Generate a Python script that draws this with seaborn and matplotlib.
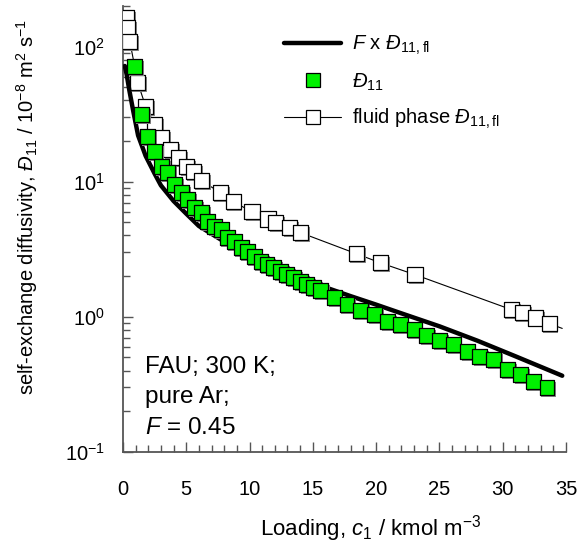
import numpy as np
import matplotlib
matplotlib.use('Agg')
import matplotlib.pyplot as plt
import matplotlib.patheffects as pe
from matplotlib.lines import Line2D
from matplotlib.ticker import MultipleLocator, LogLocator
import pandas as pd
import seaborn as sns

# fluid phase self-exchange diffusivity (open squares)
fluid_c = [0.31, 0.39, 0.55, 1.18, 1.80, 2.51, 3.06, 3.77, 4.39, 5.02, 5.57, 6.20, 7.69,
           8.71, 10.2, 11.46, 12.08, 13.18, 14.05, 18.44, 20.33, 23.07, 30.68, 31.55, 32.57, 33.67]
fluid_D = [164, 138, 109, 54, 36, 26.4, 21.2, 17.3, 15.1, 12.9, 11.9, 10.2, 8.3,
           7.1, 6.0, 5.3, 4.97, 4.56, 4.19, 2.93, 2.51, 2.05, 1.13, 1.07, 0.98, 0.89]
# thin line through fluid points runs a bit past the last square
fluid_line_c = fluid_c + [34.7]
fluid_line_D = fluid_D + [0.82]

# D11 in FAU (green squares)
d11_c = [0.94, 1.49, 1.96, 2.51, 3.06, 3.53, 4.08, 4.63, 5.10, 5.65, 6.20, 6.67, 7.22, 7.77,
         8.24, 8.79, 9.34, 9.81, 10.36, 10.91, 11.38, 11.93, 12.48, 12.95, 13.50, 14.05, 14.52,
         15.07, 15.62, 16.7, 17.7, 18.8, 19.9, 20.9, 21.9, 23.0, 24.0, 25.0, 26.1, 27.2, 28.2,
         29.3, 30.4, 31.4, 32.4, 33.5]
d11_D = [71.1, 31.3, 21.5, 16.7, 12.9, 11.7, 9.5, 8.3, 7.35, 6.42, 5.89, 5.05, 4.64, 4.41,
         3.85, 3.59, 3.24, 3.03, 2.78, 2.55, 2.43, 2.31, 2.15, 2.05, 1.94, 1.82, 1.73,
         1.64, 1.56, 1.38, 1.23, 1.11, 1.035, 0.918, 0.873, 0.80, 0.723, 0.664, 0.620, 0.551, 0.506,
         0.480, 0.405, 0.372, 0.330, 0.298]

# F x D11,fl curve (thick black)
fline_c = [0.15, 0.3, 0.5, 0.8, 1.2, 1.8, 2.5, 3.0, 4.0, 5.0, 6.0, 8.0, 10, 12, 14, 16,
           18, 20, 22, 25, 28, 31, 34.7]
fline_D = [72, 62, 48, 34, 22, 15.5, 11.5, 9.4, 7.2, 5.8, 4.7, 3.6, 2.8, 2.25, 1.92, 1.65,
           1.42, 1.23, 1.06, 0.85, 0.665, 0.51, 0.366]

sns.set_theme(style='ticks')
plt.rcParams['font.family'] = ['Liberation Sans', 'DejaVu Sans']
plt.rcParams['mathtext.fontset'] = 'custom'
plt.rcParams['mathtext.rm'] = 'Liberation Sans'
plt.rcParams['mathtext.it'] = 'Liberation Sans:italic'
plt.rcParams['mathtext.bf'] = 'Liberation Sans:bold'
plt.rcParams['axes.unicode_minus'] = False
plt.rcParams['text.color'] = 'black'
plt.rcParams['axes.labelcolor'] = 'black'

axcol = '#555555'
green = '#00f000'
shadow = [pe.SimplePatchShadow(offset=(1.2, -1.2), shadow_rgbFace='#888888', alpha=1.0), pe.Normal()]

fig = plt.figure(figsize=(5.77, 5.47), dpi=100)
ax = fig.add_axes([0.213, 0.174, 0.768, 0.815])

fl_df = pd.DataFrame({'c': fluid_line_c, 'D': fluid_line_D})
sns.lineplot(data=fl_df, x='c', y='D', ax=ax, color='black', lw=0.8, sort=False)
sns.scatterplot(x=fluid_c, y=fluid_D, ax=ax, marker='s', s=120, color='white',
                edgecolor='black', linewidth=0.9, zorder=3, path_effects=shadow)
sns.lineplot(x=fline_c, y=fline_D, ax=ax, color='black', lw=3.2, sort=False, zorder=4)
sns.scatterplot(x=d11_c, y=d11_D, ax=ax, marker='s', s=115, color=green,
                edgecolor='black', linewidth=0.9, zorder=5, path_effects=shadow)

ax.set_yscale('log')
ax.set_xlim(0, 35)
ax.set_ylim(0.1, 200)
ax.xaxis.set_major_locator(MultipleLocator(5))
ax.xaxis.set_minor_locator(MultipleLocator(1))
ax.yaxis.set_major_locator(LogLocator(base=10))
ax.yaxis.set_minor_locator(LogLocator(base=10, subs=np.arange(2, 10)))

for s in ['top', 'right']:
    ax.spines[s].set_visible(False)
for s in ['left', 'bottom']:
    ax.spines[s].set_color(axcol)
    ax.spines[s].set_linewidth(1.3)
ax.tick_params(which='both', direction='in', color=axcol, width=1.0, labelsize=14.5,
               labelcolor='black')
ax.tick_params(which='major', length=7)
ax.tick_params(which='minor', length=5)
ax.tick_params(axis='x', which='major', pad=20)
ax.tick_params(axis='y', which='major', pad=13)

ax.set_xlabel('Loading, $\\mathit{c}_1$ / kmol m$^{-3}$', fontsize=16)
ax.xaxis.set_label_coords(0.56, -0.138)
ax.set_ylabel('self-exchange diffusivity, $\\mathit{Đ}_{11}$ / 10$^{-8}$ m$^2$ s$^{-1}$',
              fontsize=14.5)
ax.yaxis.set_label_coords(-0.186, 0.55)

ax.text(0.049, 0.215, 'FAU; 300 K;\npure Ar;\n$\\mathit{F}$ = 0.45', transform=ax.transAxes,
        fontsize=17.5, va='top', ha='left', linespacing=1.5)

handles = [
    Line2D([], [], color='black', lw=3.2),
    Line2D([], [], ls='none', marker='s', markersize=10, markerfacecolor=green,
           markeredgecolor='black', markeredgewidth=0.9),
    Line2D([], [], color='black', lw=0.8, marker='s', markersize=10, markerfacecolor='white',
           markeredgecolor='black', markeredgewidth=0.9),
]
labels = ['$\\mathit{F}$ x $\\mathit{Đ}_{11,\\mathrm{fl}}$',
          '$\\mathit{Đ}_{11}$',
          'fluid phase $\\mathit{Đ}_{11,\\mathrm{fl}}$']
ax.legend(handles, labels, loc='upper left', bbox_to_anchor=(0.337, 0.965), frameon=False,
          fontsize=14.5, handlelength=2.8, handletextpad=0.55, labelspacing=0.72,
          borderaxespad=0.2)

fig.savefig('out.png', dpi=100)
